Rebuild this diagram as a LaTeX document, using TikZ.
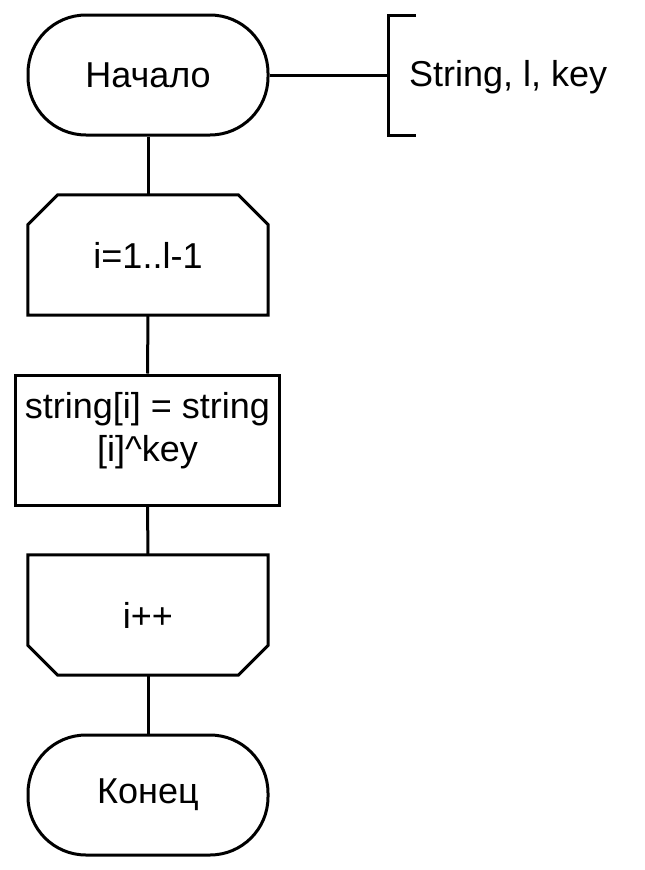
\documentclass[tikz,border=0pt]{standalone}
\usepackage{fontspec}
\setmainfont{Liberation Sans}
\usetikzlibrary{calc}
\begin{document}
\begin{tikzpicture}[x=1pt,y=-1pt,
  every node/.style={font=\fontsize{36}{43}\selectfont, inner sep=0pt},
  term/.style={draw, line width=3pt, rounded corners=58pt, minimum width=240pt, minimum height=120pt},
  loopbox/.style={minimum width=240pt, minimum height=120pt},
  proc/.style={draw, line width=3pt, minimum width=264pt, minimum height=130pt, align=center},
  conn/.style={line width=3pt}]
\useasboundingbox (0,0) rectangle (645,870);
\node[term] (start) at (148,75) {Начало};
\node[loopbox] (loop) at (148,255) {i=1..l-1};
\draw[conn, line join=miter] ($(loop.north west)+(30,0)$) -- ($(loop.north east)+(-30,0)$) -- ($(loop.north east)+(0,30)$) -- (loop.south east) -- (loop.south west) -- ($(loop.north west)+(0,30)$) -- cycle;
\node[proc] (proc) at (147.5,440) {};
\node[align=center] (proctext) at (147.5,431) {string[i] = string\\\relax [i]\^{}key};
\node[loopbox] (lend) at (148,615) {i++};
\draw[conn, line join=miter] (lend.north west) -- (lend.north east) -- ($(lend.south east)+(0,-30)$) -- ($(lend.south east)+(-30,0)$) -- ($(lend.south west)+(30,0)$) -- ($(lend.south west)+(0,-30)$) -- cycle;
\node[term] (end) at (148,795) {Конец};
\coordinate (bm) at (388,75);
\coordinate (bt) at (388,15);
\coordinate (bb) at (388,135);
\coordinate (btt) at (416,15);
\coordinate (bbt) at (416,135);
\node[anchor=west] (params) at (409,77) {String, l, key};
\draw[conn] (start.east) -- (bm);
\draw[conn] (btt) -- (bt) -- (bb) -- (bbt);
\draw[conn] (start.south) -- (loop.north);
\draw[conn] (loop.south) -- (proc.north);
\draw[conn] (proc.south) -- (lend.north);
\draw[conn] (lend.south) -- (end.north);
\end{tikzpicture}
\end{document}
